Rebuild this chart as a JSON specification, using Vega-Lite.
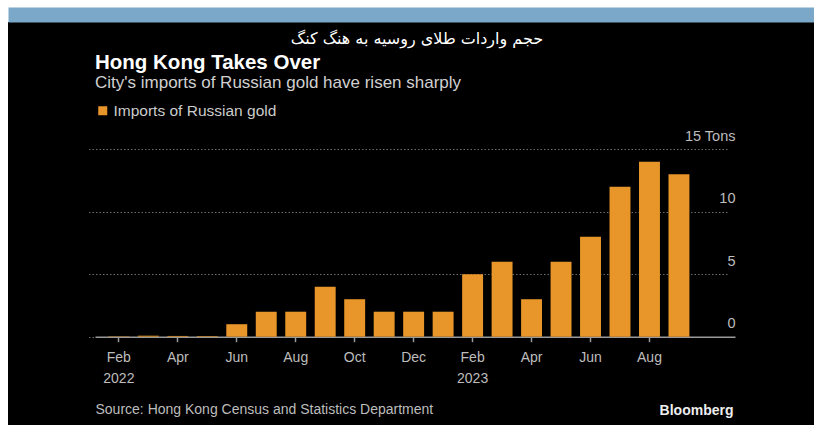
{
  "$schema": "https://vega.github.io/schema/vega-lite/v6.json",
  "width": 806,
  "height": 403,
  "autosize": {"type": "none"},
  "padding": {"left": 8, "top": 22, "right": 0, "bottom": 0},
  "background": "#ffffff",
  "config": {"view": {"fill": "#000000", "stroke": null}, "font": "Liberation Sans"},
  "title": {
    "text": "Hong Kong Takes Over",
    "subtitle": "City's imports of Russian gold have risen sharply",
    "anchor": "start",
    "frame": "group",
    "dx": 87,
    "dy": 76,
    "offset": 0,
    "font": "Liberation Sans",
    "fontSize": 20.5,
    "fontWeight": "bold",
    "color": "#ffffff",
    "subtitleFont": "Liberation Sans",
    "subtitleFontSize": 17,
    "subtitleColor": "#d0d0d0",
    "subtitlePadding": 1
  },
  "data": {
    "values": [
      {"m": "2022-02", "v": 0.03},
      {"m": "2022-03", "v": 0.08},
      {"m": "2022-04", "v": 0.06},
      {"m": "2022-05", "v": 0.05},
      {"m": "2022-06", "v": 1.0},
      {"m": "2022-07", "v": 2.0},
      {"m": "2022-08", "v": 2.0},
      {"m": "2022-09", "v": 4.0},
      {"m": "2022-10", "v": 3.0},
      {"m": "2022-11", "v": 2.0},
      {"m": "2022-12", "v": 2.0},
      {"m": "2023-01", "v": 2.0},
      {"m": "2023-02", "v": 5.0},
      {"m": "2023-03", "v": 6.0},
      {"m": "2023-04", "v": 3.0},
      {"m": "2023-05", "v": 6.0},
      {"m": "2023-06", "v": 8.0},
      {"m": "2023-07", "v": 12.0},
      {"m": "2023-08", "v": 14.0},
      {"m": "2023-09", "v": 13.0}
    ]
  },
  "layer": [
    {
      "mark": {"type": "bar"},
      "encoding": {
        "x": {
          "field": "m",
          "type": "ordinal",
          "scale": {"range": [87, 727], "paddingInner": 0.29, "paddingOuter": 1.168, "align": 0.227},
          "axis": {
            "orient": "bottom",
            "offset": -88.3,
            "values": ["2022-02", "2022-04", "2022-06", "2022-08", "2022-10", "2022-12", "2023-02", "2023-04", "2023-06", "2023-08"],
            "labelExpr": "toNumber(slice(datum.value,5)) == 2 ? ['Feb', slice(datum.value,0,4)] : ['Jan','Feb','Mar','Apr','May','Jun','Jul','Aug','Sep','Oct','Nov','Dec'][toNumber(slice(datum.value,5))-1]",
            "labelAngle": 0,
            "labelOverlap": false,
            "labelFlush": false,
            "domainColor": "#9a9a9a",
            "domainWidth": 1.5,
            "tickColor": "#9a9a9a",
            "tickSize": 5,
            "tickWidth": 1.5,
            "labelColor": "#bdbdbd",
            "labelFont": "Liberation Sans",
            "labelFontSize": 14,
            "labelPadding": 9,
            "labelLineHeight": 21,
            "labelBaseline": "top",
            "grid": false,
            "title": "Source: Hong Kong Census and Statistics Department",
            "titleX": 87,
            "titleY": 73,
            "titleAlign": "left",
            "titleAnchor": "start",
            "titleBaseline": "middle",
            "titleFont": "Liberation Sans",
            "titleFontSize": 14,
            "titleFontWeight": "normal",
            "titleColor": "#bdbdbd"
          }
        },
        "y": {
          "field": "v",
          "type": "quantitative",
          "scale": {"domain": [0, 15], "range": [314.7, 127.3], "nice": false},
          "axis": {
            "orient": "right",
            "offset": -79,
            "values": [0, 5, 10, 15],
            "labelExpr": "datum.value == 15 ? '15 Tons' : datum.label",
            "domain": false,
            "ticks": false,
            "tickSize": 0,
            "labelAlign": "right",
            "labelPadding": 0,
            "labelBaseline": "alphabetic",
            "labelOffset": -9,
            "labelColor": "#bdbdbd",
            "labelFont": "Liberation Sans",
            "labelFontSize": 14.5,
            "grid": true,
            "gridDash": [1.5, 2],
            "gridColor": "#6e6e6e",
            "gridWidth": 1,
            "title": "Bloomberg",
            "titleAngle": 0,
            "titleX": -2,
            "titleY": 388,
            "titleAlign": "right",
            "titleBaseline": "middle",
            "titleFont": "Liberation Sans",
            "titleFontSize": 14,
            "titleFontWeight": "bold",
            "titleColor": "#eeeeee"
          }
        },
        "color": {
          "datum": "Imports of Russian gold",
          "type": "nominal",
          "scale": {"range": ["#E8962A"]},
          "legend": {
            "orient": "none",
            "legendX": 87,
            "legendY": 81,
            "title": null,
            "symbolType": "square",
            "symbolSize": 81,
            "symbolStrokeWidth": 0,
            "labelFont": "Liberation Sans",
            "labelFontSize": 15.5,
            "labelColor": "#cccccc",
            "labelOffset": 3,
            "labelLimit": 400,
            "padding": 0
          }
        }
      }
    },
    {
      "mark": {"type": "point", "opacity": 0},
      "encoding": {
        "x": {
          "field": "m",
          "type": "nominal",
          "axis": {
            "orient": "top",
            "offset": 7.5,
            "domain": true,
            "domainColor": "#7BA7C9",
            "domainWidth": 15,
            "domainCap": "butt",
            "ticks": false,
            "labels": false,
            "grid": false,
            "title": "حجم واردات طلای روسیه به هنگ کنگ",
            "titleX": 408.5,
            "titleY": 24,
            "titleAlign": "center",
            "titleBaseline": "middle",
            "titleAngle": 0,
            "titleFont": "DejaVu Sans",
            "titleFontSize": 16,
            "titleFontWeight": "normal",
            "titleColor": "#ffffff"
          }
        }
      }
    }
  ],
  "resolve": {"scale": {"x": "independent"}, "axis": {"x": "independent"}}
}
